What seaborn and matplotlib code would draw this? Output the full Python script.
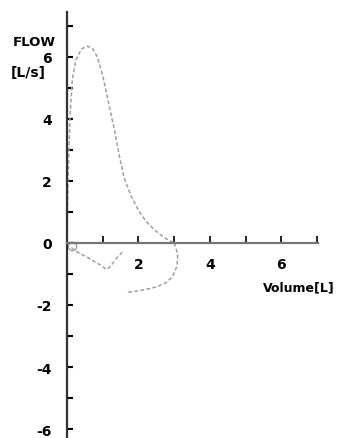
import matplotlib
matplotlib.use("Agg")
import matplotlib.pyplot as plt
import seaborn as sns

# expiratory limb of the flow-volume loop
exp_vol = [0.0, 0.03, 0.08, 0.15, 0.25, 0.4, 0.55, 0.7, 0.85, 1.0, 1.15, 1.3, 1.45, 1.6, 1.8, 2.0, 2.2, 2.4, 2.6, 2.8, 3.0]
exp_flow = [0.0, 2.0, 4.0, 5.3, 5.9, 6.25, 6.35, 6.3, 6.0, 5.4, 4.6, 3.8, 2.9, 2.1, 1.5, 1.05, 0.72, 0.48, 0.28, 0.12, 0.0]
# inspiratory limb
insp_vol = [3.0, 3.1, 3.08, 2.95, 2.75, 2.5, 2.2, 1.95, 1.65]
insp_flow = [0.0, -0.35, -0.75, -1.1, -1.3, -1.42, -1.5, -1.55, -1.6]
# small partial loop near the origin
tidal_vol = [0.12, 0.3, 0.55, 0.8, 0.95, 1.1, 1.2, 1.35, 1.5, 1.6]
tidal_flow = [-0.15, -0.3, -0.45, -0.62, -0.72, -0.85, -0.78, -0.55, -0.35, -0.25]

yticks = list(range(-6, 8))
ylabels = ["-6", "", "-4", "", "-2", "", "0", "", "2", "", "4", "", "6", ""]
xticks = list(range(1, 8))
xlabels = ["", "2", "", "4", "", "6", ""]

sns.set_style("white")
plt.rcParams['font.family'] = ['DejaVu Sans']
plt.rcParams['text.color'] = 'black'
plt.rcParams['xtick.color'] = 'black'
plt.rcParams['ytick.color'] = 'black'

fig = plt.figure(figsize=(3.38, 4.39), dpi=100)
ax = fig.add_axes([67 / 338, 0.0, 251 / 338, 1 - 13 / 439])

line_kw = dict(color="#a0a0a0", lw=1.1, dashes=(2.5, 1.5), ax=ax, sort=False, estimator=None)
sns.lineplot(x=exp_vol, y=exp_flow, **line_kw)
sns.lineplot(x=insp_vol, y=insp_flow, **line_kw)
sns.lineplot(x=tidal_vol, y=tidal_flow, **line_kw)
ax.plot([0.13], [-0.1], marker="o", ms=6, mfc="none", mec="#a0a0a0", mew=1)

ax.set_xlim(0, 7.03)
ax.set_ylim(-6.29, 7.45)

for s in ["top", "right"]:
    ax.spines[s].set_visible(False)
ax.spines["bottom"].set_position(("data", 0))
ax.spines["left"].set_linewidth(1.6)
ax.spines["bottom"].set_linewidth(1.6)
ax.spines["left"].set_color("#333333")
ax.spines["bottom"].set_color("#777777")

ax.set_yticks(yticks)
ax.set_yticklabels(ylabels, fontsize=10, fontweight="bold")
ax.set_xticks(xticks)
ax.set_xticklabels(xlabels, fontsize=10, fontweight="bold")
ax.tick_params(axis="y", direction="in", length=4, width=1.5, pad=11, left=True)
ax.tick_params(axis="x", direction="in", length=5, width=1.2, pad=10, bottom=True)

fig.text(13 / 338, 1 - 42 / 439, "FLOW", fontsize=9.5, fontweight="bold", va="center", ha="left")
fig.text(11 / 338, 1 - 73 / 439, "[L/s]", fontsize=10, fontweight="bold", va="center", ha="left")
fig.text(299 / 338, 1 - 288 / 439, "Volume[L]", fontsize=9, fontweight="bold", va="center", ha="center")

fig.savefig("out.png", dpi=100)
